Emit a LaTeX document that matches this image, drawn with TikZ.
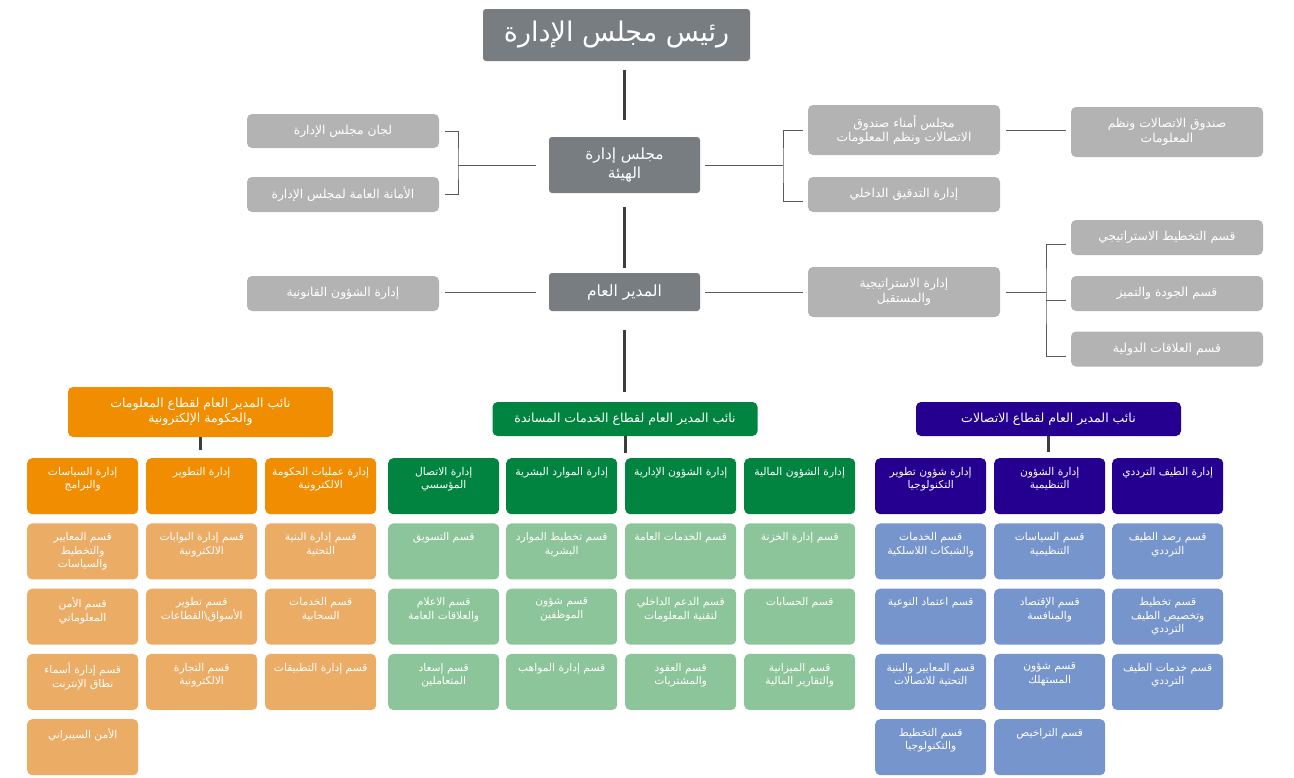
\documentclass[tikz,border=0pt]{standalone}
\usepackage{fontspec}
\newfontfamily\arabicfont[Script=Arabic]{DejaVu Sans}
\TeXXeTstate=1
\usetikzlibrary{positioning}

\definecolor{boardgray}{HTML}{787D81}
\definecolor{sidegray}{HTML}{B3B3B3}
\definecolor{linkgray}{HTML}{5A5A5A}
\definecolor{trunkgray}{HTML}{3D3D3D}
\definecolor{infodark}{HTML}{F18D00}
\definecolor{infolight}{HTML}{EBAC66}
\definecolor{supportdark}{HTML}{00843F}
\definecolor{supportlight}{HTML}{8CC59A}
\definecolor{telecomdark}{HTML}{250090}
\definecolor{telecomlight}{HTML}{7795CD}

% one right-to-left line
\newcommand\ar[1]{\beginR #1\endR}
% text block sitting at the top of a unit box
\newcommand\cellbody[1]{\parbox[t][50pt][t]{108pt}{\centering\vspace*{6pt}#1}}

\tikzset{
  boardbox/.style={fill=boardgray, text=white, rounded corners=3pt, align=center},
  sidebox/.style={fill=sidegray, text=white, rounded corners=5pt, minimum width=192,
    align=center, font=\arabicfont\fontsize{12.3}{14.5}\selectfont},
  vpbox/.style={text=white, rounded corners=5pt, minimum width=265, align=center,
    font=\arabicfont\fontsize{12.5}{15}\selectfont},
  cell/.style={text=white, rounded corners=5pt, anchor=north west, minimum width=111,
    minimum height=56, inner sep=0pt, font=\arabicfont\fontsize{10.7}{13.5}\selectfont},
  link/.style={draw=linkgray, line width=0.9pt},
  trunk/.style={draw=trunkgray, line width=3pt}
}

\begin{document}
\begin{tikzpicture}[x=1pt, y=-1pt]
\fill[white] (0,0) rectangle (1294,777);
\useasboundingbox (0,0) rectangle (1294,777);

% top of the chart
\node[boardbox, minimum width=267, minimum height=52, font=\arabicfont\fontsize{27}{30}\selectfont]
  (chair) at (616.5,35) {\ar{رئيس مجلس الإدارة}};
\node[boardbox, minimum width=151, minimum height=56, font=\arabicfont\fontsize{15.3}{19}\selectfont]
  (board) at (624.5,165) {\ar{مجلس إدارة}\\\ar{الهيئة}};
\node[boardbox, minimum width=151, minimum height=38, font=\arabicfont\fontsize{15.5}{19}\selectfont]
  (gm) at (624.5,292) {\ar{المدير العام}};

\node[sidebox, minimum height=34] (comm) at (343,131) {\ar{لجان مجلس الإدارة}};
\node[sidebox, minimum height=35] (secr) at (343,194.5) {\ar{الأمانة العامة لمجلس الإدارة}};
\node[sidebox, minimum height=35] (legal) at (343,293.5) {\ar{إدارة الشؤون القانونية}};
\node[sidebox, minimum height=50] (trust) at (904,130) {\ar{مجلس أمناء صندوق}\\\ar{الاتصالات ونظم المعلومات}};
\node[sidebox, minimum height=35] (audit) at (904,194.5) {\ar{إدارة التدقيق الداخلي}};
\node[sidebox, minimum height=50] (strat) at (904,292) {\ar{إدارة الاستراتيجية}\\\ar{والمستقبل}};
\node[sidebox, minimum height=50] (fund) at (1167,132) {\ar{صندوق الاتصالات ونظم}\\\ar{المعلومات}};
\node[sidebox, minimum height=35] (plan) at (1167,237.5) {\ar{قسم التخطيط الاستراتيجي}};
\node[sidebox, minimum height=35] (qual) at (1167,293.5) {\ar{قسم الجودة والتميز}};
\node[sidebox, minimum height=35] (intl) at (1167,349) {\ar{قسم العلاقات الدولية}};

\draw[trunk, shorten <=9, shorten >=17] (chair.south -| board.north) -- (board.north);
\draw[trunk, shorten <=14, shorten >=5] (board.south) -- (gm.north);
\draw[trunk, shorten <=19, shorten >=10] (gm.south) -- (gm.south |- 0,402);

\coordinate (lb) at (458,165);
\draw[link] ([xshift=-13]board.west) -- (lb);
\draw[link] ([xshift=6]comm.east) -| (lb) |- ([xshift=6]secr.east);
\coordinate (rb) at (783,165);
\draw[link] ([xshift=5]board.east) -- (rb);
\draw[link] ([xshift=-5]trust.west) -| (rb) |- ([xshift=-5,yshift=-7]audit.west);
\draw[link] ([xshift=6]trust.east) -- ([xshift=-5]trust.east -| fund.west);

\draw[link] ([xshift=-13]gm.west) -- ([xshift=6]gm.west -| legal.east);
\draw[link] ([xshift=5]gm.east) -- ([xshift=-5]strat.west);
\coordinate (sb) at (1046,292);
\draw[link] ([xshift=6]strat.east) -- (sb);
\draw[link] ([xshift=-5,yshift=-7]plan.west) -| (sb) |- ([xshift=-5,yshift=-7]intl.west);
\draw[link] ([yshift=-7]qual.west -| sb) -- ([xshift=-5,yshift=-7]qual.west);

% deputy general managers
\node[vpbox, fill=infodark, minimum height=50] (vpinfo) at (200.5,412)
  {\ar{نائب المدير العام لقطاع المعلومات}\\\ar{والحكومة الإلكترونية}};
\node[vpbox, fill=supportdark, minimum height=34] (vpsupport) at (625,419)
  {\ar{نائب المدير العام لقطاع الخدمات المساندة}};
\node[vpbox, fill=telecomdark, minimum height=34] (vptelecom) at (1048.5,419)
  {\ar{نائب المدير العام لقطاع الاتصالات}};

\draw[trunk] (vpinfo.south) -- ([yshift=-13]vpinfo.south);
\draw[trunk] (vpsupport.south) -- ([yshift=-17]vpsupport.south);
\draw[trunk] (vptelecom.south) -- ([yshift=-16]vptelecom.south);

% information and e-government sector
\node[cell, fill=infodark] (info1) at (27,458) {\cellbody{\ar{إدارة السياسات}\\\ar{والبرامج}}};
\foreach \t [count=\k] in {{\ar{قسم المعايير}\\\ar{والتخطيط}\\\ar{والسياسات}},
    {\ar{قسم الأمن}\\\ar{المعلوماتي}}, {\ar{قسم إدارة أسماء}\\\ar{نطاق الإنترنت}},
    {\ar{الأمن السيبراني}}}
  \node[cell, fill=infolight] (info1-\k) at (27,458+65.25*\k) {\cellbody{\t}};
\node[cell, fill=infodark] (info2) at (146,458) {\cellbody{\ar{إدارة التطوير}}};
\foreach \t [count=\k] in {{\ar{قسم إدارة البوابات}\\\ar{الالكترونية}},
    {\ar{قسم تطوير}\\\ar{الأسواق\textbackslash القطاعات}}, {\ar{قسم التجارة}\\\ar{الالكترونية}}}
  \node[cell, fill=infolight] (info2-\k) at (146,458+65.25*\k) {\cellbody{\t}};
\node[cell, fill=infodark] (info3) at (265,458) {\cellbody{\ar{إدارة عمليات الحكومة}\\\ar{الالكترونية}}};
\foreach \t [count=\k] in {{\ar{قسم إدارة البنية}\\\ar{التحتية}},
    {\ar{قسم الخدمات}\\\ar{السحابية}}, {\ar{قسم إدارة التطبيقات}}}
  \node[cell, fill=infolight] (info3-\k) at (265,458+65.25*\k) {\cellbody{\t}};

% support services sector
\node[cell, fill=supportdark] (sup1) at (388,458) {\cellbody{\ar{إدارة الاتصال}\\\ar{المؤسسي}}};
\foreach \t [count=\k] in {{\ar{قسم التسويق}}, {\ar{قسم الاعلام}\\\ar{والعلاقات العامة}},
    {\ar{قسم إسعاد}\\\ar{المتعاملين}}}
  \node[cell, fill=supportlight] (sup1-\k) at (388,458+65.25*\k) {\cellbody{\t}};
\node[cell, fill=supportdark] (sup2) at (506,458) {\cellbody{\ar{إدارة الموارد البشرية}}};
\foreach \t [count=\k] in {{\ar{قسم تخطيط الموارد}\\\ar{البشرية}}, {\ar{قسم شؤون}\\\ar{الموظفين}},
    {\ar{قسم إدارة المواهب}}}
  \node[cell, fill=supportlight] (sup2-\k) at (506,458+65.25*\k) {\cellbody{\t}};
\node[cell, fill=supportdark] (sup3) at (625,458) {\cellbody{\ar{إدارة الشؤون الإدارية}}};
\foreach \t [count=\k] in {{\ar{قسم الخدمات العامة}}, {\ar{قسم الدعم الداخلي}\\\ar{لتقنية المعلومات}},
    {\ar{قسم العقود}\\\ar{والمشتريات}}}
  \node[cell, fill=supportlight] (sup3-\k) at (625,458+65.25*\k) {\cellbody{\t}};
\node[cell, fill=supportdark] (sup4) at (744,458) {\cellbody{\ar{إدارة الشؤون المالية}}};
\foreach \t [count=\k] in {{\ar{قسم إدارة الخزنة}}, {\ar{قسم الحسابات}},
    {\ar{قسم الميزانية}\\\ar{والتقارير المالية}}}
  \node[cell, fill=supportlight] (sup4-\k) at (744,458+65.25*\k) {\cellbody{\t}};

% telecom sector
\node[cell, fill=telecomdark] (tel1) at (875,458) {\cellbody{\ar{إدارة شؤون تطوير}\\\ar{التكنولوجيا}}};
\foreach \t [count=\k] in {{\ar{قسم الخدمات}\\\ar{والشبكات اللاسلكية}}, {\ar{قسم اعتماد النوعية}},
    {\ar{قسم المعايير والبنية}\\\ar{التحتية للاتصالات}}, {\ar{قسم التخطيط}\\\ar{والتكنولوجيا}}}
  \node[cell, fill=telecomlight] (tel1-\k) at (875,458+65.25*\k) {\cellbody{\t}};
\node[cell, fill=telecomdark] (tel2) at (994,458) {\cellbody{\ar{إدارة الشؤون}\\\ar{التنظيمية}}};
\foreach \t [count=\k] in {{\ar{قسم السياسات}\\\ar{التنظيمية}}, {\ar{قسم الإقتصاد}\\\ar{والمنافسة}},
    {\ar{قسم شؤون}\\\ar{المستهلك}}, {\ar{قسم التراخيص}}}
  \node[cell, fill=telecomlight] (tel2-\k) at (994,458+65.25*\k) {\cellbody{\t}};
\node[cell, fill=telecomdark] (tel3) at (1112,458) {\cellbody{\ar{إدارة الطيف الترددي}}};
\foreach \t [count=\k] in {{\ar{قسم رصد الطيف}\\\ar{الترددي}},
    {\ar{قسم تخطيط}\\\ar{وتخصيص الطيف}\\\ar{الترددي}}, {\ar{قسم خدمات الطيف}\\\ar{الترددي}}}
  \node[cell, fill=telecomlight] (tel3-\k) at (1112,458+65.25*\k) {\cellbody{\t}};
\end{tikzpicture}
\end{document}
